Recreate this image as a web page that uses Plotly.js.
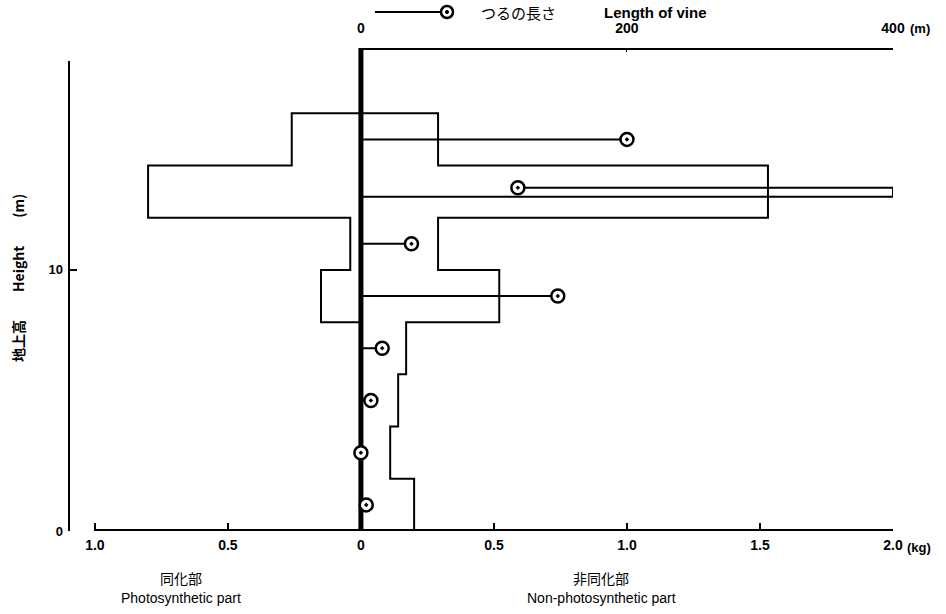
<!DOCTYPE html>
<html>
<head>
<meta charset="utf-8">
<script src="https://cdn.plot.ly/plotly-3.0.1.min.js"></script>
<style>html,body{margin:0;padding:0;background:#fff;}#chart{width:946px;height:614px;}</style>
</head>
<body>
<div id="chart"></div>
<script>
// ---- data ----
const layerBounds = [0, 2, 4, 6, 8, 10, 12, 14, 16];            // height layer boundaries (m)
const photosynthetic = [0, 0, 0, 0, 0.15, 0.04, 0.80, 0.26];      // kg per layer (drawn to the left)
const nonPhotosynthetic = [0.20, 0.11, 0.14, 0.17, 0.52, 0.29, 1.53, 0.29]; // kg per layer (right)
const vineHeights = [1, 3, 5, 7, 9, 11, 13, 15];                  // m
const vineLengths = [4, 0, 7.5, 16, 148, 38, 682, 200];            // m of vine
const kgTickVals = [-1, -0.5, 0, 0.5, 1, 1.5, 2];
const kgTickText = ['1.0', '0.5', '0', '0.5', '1.0', '1.5', '2.0'];
const mTickVals = [0, 200, 400];
const mTickText = ['0', '200', '400'];
const heightTickVals = [0, 10];
const heightTickText = ['0', '10'];

// ---- scales ----
const kgMin = -1.101, kgMax = 2.0;
const mPerKg = 200;
const mMax = 400;
const hMax = 18.5, hAxisTop = 18.0;
const FONT = 'Liberation Sans, Arial, sans-serif';
const CJK = 'Noto Sans CJK JP, sans-serif';

function outline(vals, sign) {
  const n = vals.length;
  const xs = [0], ys = [layerBounds[n]];
  for (let i = n - 1; i >= 0; i--) {
    xs.push(sign * vals[i]); ys.push(layerBounds[i + 1]);
    xs.push(sign * vals[i]); ys.push(layerBounds[i]);
  }
  xs.push(0); ys.push(0);
  return {xs, ys};
}
const left = outline(photosynthetic, -1);
const right = outline(nonPhotosynthetic, 1);

// vine lines (folded back when beyond the 400 m scale)
const vx = [], vy = [], mx = [], my = [];
vineHeights.forEach((h, i) => {
  const L = vineLengths[i];
  if (L <= mMax) {
    vx.push(0, L, null); vy.push(h, h, null);
    mx.push(L); my.push(h);
  } else {
    const back = 2 * mMax - L;
    vx.push(0, mMax, mMax, back, null); vy.push(h - 0.2, h - 0.2, h + 0.15, h + 0.15, null);
    mx.push(back); my.push(h + 0.15);
  }
});

const traces = [
  {x: left.xs, y: left.ys, type: 'scatter', mode: 'lines', xaxis: 'x', yaxis: 'y',
   line: {color: '#000', width: 2}, hoverinfo: 'skip', showlegend: false, cliponaxis: false},
  {x: right.xs, y: right.ys, type: 'scatter', mode: 'lines', xaxis: 'x', yaxis: 'y',
   line: {color: '#000', width: 2}, hoverinfo: 'skip', showlegend: false, cliponaxis: false},
  {x: vx, y: vy, type: 'scatter', mode: 'lines', xaxis: 'x2', yaxis: 'y',
   line: {color: '#000', width: 2}, hoverinfo: 'skip', showlegend: false, cliponaxis: false},
  {x: mx, y: my, type: 'scatter', mode: 'markers', xaxis: 'x2', yaxis: 'y', name: 'つるの長さ Length of vine',
   marker: {symbol: 'circle-dot', size: 13, color: '#fff', line: {color: '#000', width: 2.5}},
   showlegend: false, cliponaxis: false}
];

// paper helpers from pixel positions
const L_M = 68, R_M = 53, T_M = 48, B_M = 83, W = 946, H = 614;
const pw = W - L_M - R_M, ph = H - T_M - B_M;
const px = p => (p - L_M) / pw;
const py = p => (H - B_M - p) / ph;

const shapes = [
  // bottom axis
  {type: 'line', xref: 'x', yref: 'y', x0: -1, x1: 2, y0: 0, y1: 0, line: {color: '#000', width: 4}, layer: 'below'},
  // central axis
  {type: 'line', xref: 'x', yref: 'y', x0: 0, x1: 0, y0: 0, y1: hMax, line: {color: '#000', width: 5}, layer: 'below'},
  // left height axis
  {type: 'line', xref: 'x', yref: 'y', x0: kgMin, x1: kgMin, y0: 0, y1: hAxisTop, line: {color: '#000', width: 4}, layer: 'below'},
  // top axis
  {type: 'line', xref: 'x2', yref: 'y', x0: 0, x1: mMax, y0: hMax, y1: hMax, line: {color: '#000', width: 4}, layer: 'below'},
  // legend glyph
  {type: 'line', xref: 'paper', yref: 'paper', x0: px(375), x1: px(441), y0: py(12), y1: py(12), line: {color: '#000', width: 2}},
  {type: 'circle', xref: 'paper', yref: 'paper', xsizemode: 'pixel', ysizemode: 'pixel',
   xanchor: px(447), yanchor: py(12), x0: -6, x1: 6, y0: -6, y1: 6, fillcolor: '#fff', line: {color: '#000', width: 2.5}},
  {type: 'circle', xref: 'paper', yref: 'paper', xsizemode: 'pixel', ysizemode: 'pixel',
   xanchor: px(447), yanchor: py(12), x0: -1.6, x1: 1.6, y0: -1.6, y1: 1.6, fillcolor: '#000', line: {color: '#000', width: 1}}
];

const f = (family, size, weight) => ({family, size, color: '#000', weight: weight || 'normal'});
const ann = (text, x, y, opts) => Object.assign({text, xref: 'paper', yref: 'paper', x: px(x), y: py(y),
  showarrow: false, xanchor: 'center', yanchor: 'middle', font: f(FONT, 13)}, opts || {});

const annotations = [
  ann('つるの長さ', 518, 12, {font: f(CJK, 15)}),
  ann('Length of vine', 655, 12, {font: f(FONT, 15, 'bold')}),
  ann('(m)', 920, 28, {font: f(FONT, 13, 'bold')}),
  ann('(kg)', 919, 547, {font: f(FONT, 13, 'bold')}),
  ann('同化部', 181, 578, {font: f(CJK, 14)}),
  ann('Photosynthetic part', 181, 598, {font: f(FONT, 14)}),
  ann('非同化部', 601, 578, {font: f(CJK, 14)}),
  ann('Non-photosynthetic part', 601, 598, {font: f(FONT, 14)}),
  ann('地上高　　Height　　(m)', 18, 278, {textangle: -90, font: f(CJK, 14, 'bold')})
];

const layout = {
  width: W, height: H,
  margin: {l: L_M, r: R_M, t: T_M, b: B_M, pad: 0},
  paper_bgcolor: '#fff', plot_bgcolor: '#fff',
  showlegend: false,
  font: f(FONT, 12),
  xaxis: {range: [kgMin, kgMax], showline: false, zeroline: false, showgrid: false,
    tickmode: 'array', tickvals: kgTickVals, ticktext: kgTickText,
    ticks: 'inside', ticklen: 8, tickwidth: 2, tickcolor: '#000', ticklabelstandoff: 4,
    tickfont: f(FONT, 14, 'bold'), automargin: false, fixedrange: true},
  xaxis2: {range: [kgMin * mPerKg, mMax], overlaying: 'x', side: 'top', anchor: 'y',
    showline: false, zeroline: false, showgrid: false,
    tickmode: 'array', tickvals: mTickVals, ticktext: mTickText,
    ticks: 'inside', ticklen: 4, tickwidth: 1, tickcolor: '#000', ticklabelstandoff: 11,
    tickfont: f(FONT, 14, 'bold'), automargin: false, fixedrange: true},
  yaxis: {range: [0, hMax], showline: false, zeroline: false, showgrid: false,
    tickmode: 'array', tickvals: heightTickVals, ticktext: heightTickText,
    ticks: 'inside', ticklen: 9, tickwidth: 2, tickcolor: '#000', ticklabelstandoff: 4,
    tickfont: f(FONT, 13, 'bold'), automargin: false, fixedrange: true},
  shapes, annotations
};

Plotly.newPlot('chart', traces, layout, {displayModeBar: false, staticPlot: true});
</script>
</body>
</html>
